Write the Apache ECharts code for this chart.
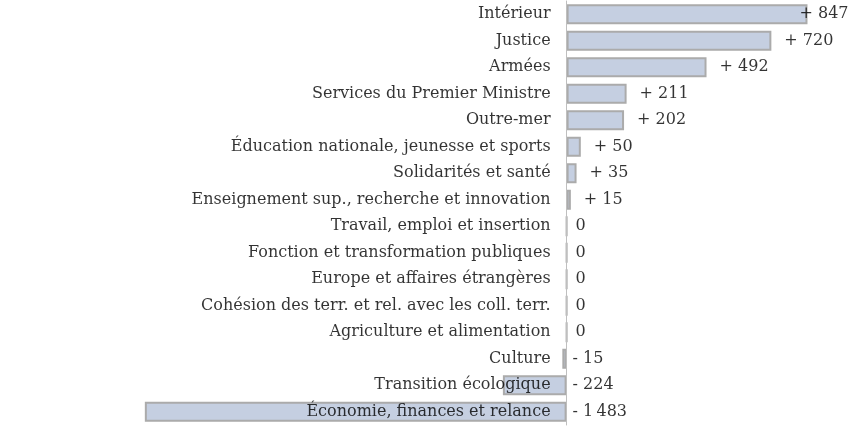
<!DOCTYPE html>
<html><head><meta charset="utf-8">
<script src="https://cdn.jsdelivr.net/npm/echarts@6/dist/echarts.min.js"></script>
<style>html,body{margin:0;padding:0;background:#fff}#c{width:851px;height:427px}</style>
</head><body><div id="c"></div>
<script>
const categories = [
  "Intérieur","Justice","Armées","Services du Premier Ministre","Outre-mer",
  "Éducation nationale, jeunesse et sports","Solidarités et santé",
  "Enseignement sup., recherche et innovation","Travail, emploi et insertion",
  "Fonction et transformation publiques","Europe et affaires étrangères",
  "Cohésion des terr. et rel. avec les coll. terr.","Agriculture et alimentation",
  "Culture","Transition écologique","Économie, finances et relance"
];
const values = [847,720,492,211,202,50,35,15,0,0,0,0,0,-15,-224,-1483];

const FONT = "DejaVu Serif";
const FS = 16;
function fmt(v){
  if (v === 0) return "0";
  const a = Math.abs(v).toString().replace(/\B(?=(\d{3})+(?!\d))/g, "\u202f");
  return (v > 0 ? "+ " : "- ") + a;
}
const labelPts = values.map((v,i) => {
  const d = v > 0 ? 13 : (v === 0 ? 9 : 6);
  return {
    value: [Math.max(v,0), categories[i], v],
    label: {distance: (v === 847 ? -8 : d)}
  };
});
const catPts = categories.map(c => [0, c]);

const chart = echarts.init(document.getElementById('c'), null, {renderer:'canvas'});
chart.setOption({
  animation:false,
  grid:{left:140,right:0,top:1,bottom:2,containLabel:false,outerBoundsMode:'none'},
  xAxis:{type:'value',min:-1500,max:1000,show:false,splitLine:{show:false}},
  yAxis:{type:'category',data:categories,inverse:true,z:5,
    axisLine:{show:true,onZero:true,lineStyle:{color:'#bfbfbf',width:1}},
    axisTick:{show:false},
    axisLabel:{show:false}},
  series:[
    {type:'bar',data:values,barWidth:'76%',z:2,
     itemStyle:{color:'#c5cfe1',borderColor:'#ababab',borderWidth:2}},
    {type:'scatter',data:labelPts,symbolSize:0,z:6,silent:true,
     label:{show:true,position:'right',color:'#000',fontFamily:FONT,fontSize:FS,
       formatter:p=>fmt(p.value[2])}},
    {type:'scatter',data:catPts,symbolSize:0,z:6,silent:true,
     label:{show:true,position:'left',distance:16,color:'#000',fontFamily:FONT,fontSize:FS,
       formatter:p=>p.value[1]}}
  ]
});
</script></body></html>
